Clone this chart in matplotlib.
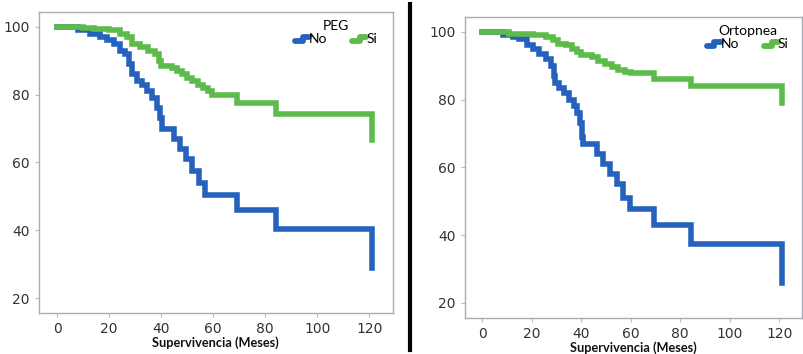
import numpy as np
import matplotlib
matplotlib.use('Agg')
import matplotlib.pyplot as plt
from matplotlib.lines import Line2D
from matplotlib.legend_handler import HandlerBase

# ─── 数据：Kaplan-Meier 阶梯 (时间, 生存%) ───
peg_no_t = [0, 8, 12.6, 16.5, 19, 22, 24, 26, 27.5, 28.7, 30.6, 32.5, 34.5, 36.4, 38.3, 39.4, 40.3,
            44.8, 47.3, 49.5, 52, 54.5, 57, 59, 69, 84, 121]
peg_no_s = [100, 99, 98, 97, 96, 95, 93, 92, 89, 86, 84, 83, 81, 79, 76, 73, 70,
            67, 64, 61, 57.5, 54, 50.5, 50.5, 46, 40.3, 29]
peg_si_t = [0, 10, 14, 20, 24, 27, 28.7, 32, 35, 37.7, 39, 40,
            44, 46, 48, 50, 52, 54, 56, 58, 59.5, 69, 84, 121]
peg_si_s = [100, 99.7, 99.5, 99, 98, 97, 95, 94, 93, 92, 90, 88.5,
            88, 87, 86, 85, 84, 83, 82, 81, 80, 77.5, 74.2, 66.5]

ort_no_t = [0, 8.6, 12.6, 15, 18, 20.5, 23, 26, 28, 29, 29.6, 31, 33, 35, 37, 38.5, 39.4, 40.2, 40.7,
            46.4, 49, 51.7, 54.4, 57, 59.7, 69.6, 84.5, 121]
ort_no_s = [100, 99, 98.5, 98, 96, 95, 93.5, 92, 90, 87, 85, 83.5, 82, 80, 78, 76, 73, 69, 67,
            64, 61, 58, 55, 51, 47.8, 43, 37.3, 26]
ort_si_t = [0, 11, 20.5, 26, 28.5, 30.5, 34, 36.5, 38.5, 40,
            44.4, 47, 49.7, 52.4, 55, 57.7, 60.3, 69.6, 84.5, 121]
ort_si_s = [100, 99.5, 99, 98.5, 97.5, 96.5, 96, 95, 94, 93.3,
            92.5, 91.5, 90.5, 89.5, 88.8, 88.2, 87.8, 86.2, 84, 79]

x_ticks = [0, 20, 40, 60, 80, 100, 120]
y_ticks = [20, 40, 60, 80, 100]
group_labels = ['No', 'Si']

BLUE = '#2462BE'
GREEN = '#5CBB4A'
FONT = ['Lato', 'DejaVu Sans']


class StepHandler(HandlerBase):
    def create_artists(self, legend, orig_handle, xdescent, ydescent, width, height, fontsize, trans):
        x0 = -xdescent
        y0 = -ydescent
        xs = [x0, x0 + width * 0.55, x0 + width * 0.55, x0 + width]
        ys = [y0 + height * 0.25, y0 + height * 0.25, y0 + height * 0.7, y0 + height * 0.7]
        ln = Line2D(xs, ys, color=orig_handle.get_color(), lw=4.2, solid_joinstyle='round',
                    solid_capstyle='round', transform=trans)
        return [ln]


def km_panel(ax, t_no, s_no, t_si, s_si, title):
    ax.step(t_no, s_no, where='post', color=BLUE, lw=4.0, solid_joinstyle='miter')
    ax.step(t_si, s_si, where='post', color=GREEN, lw=4.0, solid_joinstyle='miter')
    ax.set_xlim(-7, 129)
    ax.set_ylim(15.6, 104.4)
    ax.set_xticks(x_ticks)
    ax.set_yticks(y_ticks)
    ax.tick_params(labelsize=10, colors='#bbbbbb', labelcolor='#333333', length=3, width=0.8)
    for sp in ax.spines.values():
        sp.set_color('#a8adb3')
        sp.set_linewidth(1.0)
    ax.set_xlabel('Supervivencia (Meses)', fontsize=9.2, fontweight='bold',
                  family=FONT, labelpad=0, color='#111111')
    handles = [Line2D([], [], color=BLUE), Line2D([], [], color=GREEN)]
    leg = ax.legend(handles, group_labels, title=title, ncol=2, frameon=False,
                    loc='upper center', bbox_to_anchor=(0.84, 1.015),
                    handlelength=1.0, handletextpad=0.0, columnspacing=1.8,
                    prop={'family': FONT, 'size': 10},
                    handler_map={Line2D: StepHandler()})
    leg.get_title().set_fontsize(10)
    leg.get_title().set_family(FONT)
    leg._legend_box.sep = 1


fig = plt.figure(figsize=(8.04, 3.54), dpi=100)
ax1 = fig.add_axes([0.0485, 0.116, 0.440, 0.850])
ax2 = fig.add_axes([0.578, 0.102, 0.419, 0.850])

km_panel(ax1, peg_no_t, peg_no_s, peg_si_t, peg_si_s, 'PEG')
km_panel(ax2, ort_no_t, ort_no_s, ort_si_t, ort_si_s, 'Ortopnea')

# 中间的黑色分隔线
fig.add_artist(Line2D([410 / 804, 410 / 804], [0.01, 0.99], color='black', lw=3,
                      transform=fig.transFigure))

plt.savefig('out.png', dpi=100)
plt.close()
